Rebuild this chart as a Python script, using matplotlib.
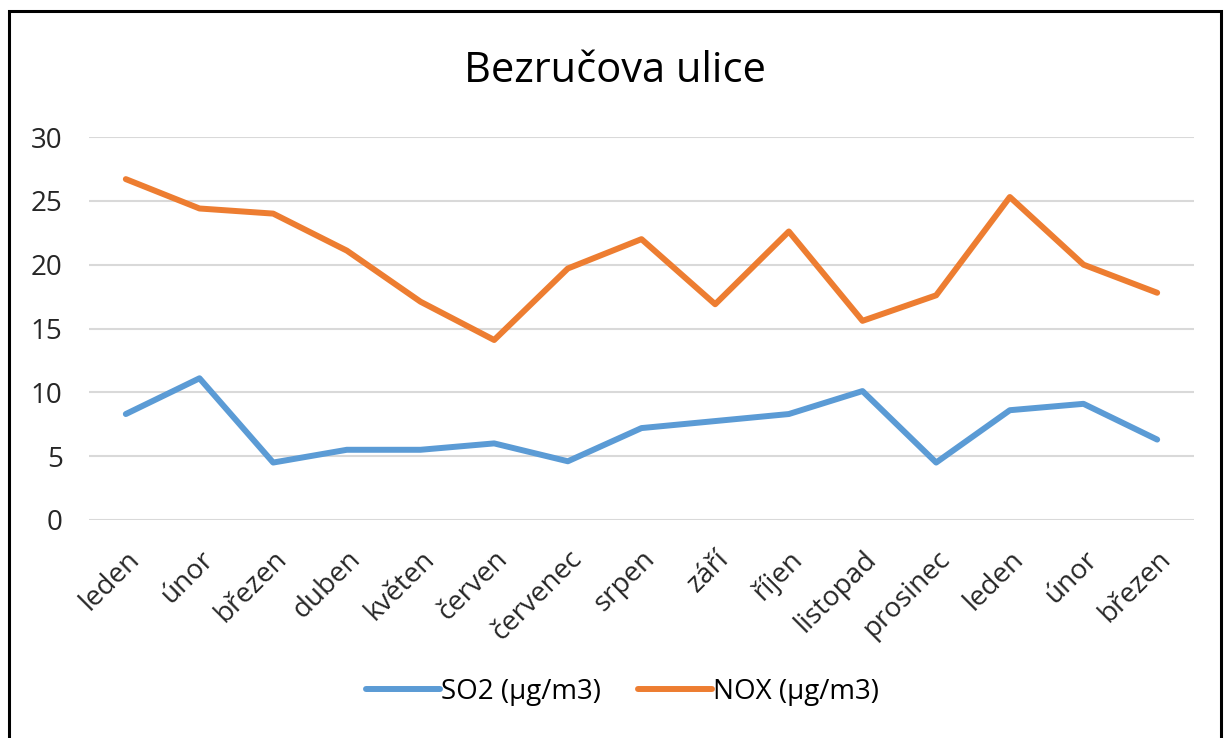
import matplotlib.pyplot as plt
from matplotlib.patches import Rectangle

months = ['leden', 'únor', 'březen', 'duben', 'květen', 'červen', 'červenec',
          'srpen', 'září', 'říjen', 'listopad', 'prosinec', 'leden', 'únor', 'březen']
so2 = [8.3, 11.1, 4.5, 5.5, 5.5, 6.0, 4.6, 7.2, 7.75, 8.3, 10.1, 4.5, 8.6, 9.1, 6.3]
nox = [26.7, 24.4, 24.0, 21.1, 17.1, 14.1, 19.7, 22.0, 16.9, 22.6, 15.6, 17.6, 25.3, 20.0, 17.8]

plt.rcParams['font.family'] = ['Open Sans', 'DejaVu Sans']
fs = 20

fig = plt.figure(figsize=(12.29, 7.38), dpi=100)
ax = fig.add_axes([89 / 1229, 1 - 520 / 738, 1105 / 1229, 383 / 738])

x = list(range(len(months)))
ax.plot(x, so2, color='#5B9BD5', lw=4.3, solid_capstyle='round', label='SO2 (µg/m3)')
ax.plot(x, nox, color='#ED7D31', lw=4.3, solid_capstyle='round', label='NOX (µg/m3)')

ax.set_xlim(-0.5, len(months) - 0.5)
ax.set_ylim(0, 30)
ax.set_yticks(range(0, 31, 5))
ax.set_xticks(x)
ax.set_xticklabels(months, rotation=45, ha='right', rotation_mode='anchor')
ax.tick_params(axis='both', length=0, labelsize=fs, colors='#262626')
ax.tick_params(axis='y', pad=19)
ax.tick_params(axis='x', pad=18)
ax.grid(axis='y', color='#D9D9D9', lw=1.5)
ax.set_axisbelow(True)
for s in ax.spines.values():
    s.set_visible(False)

fig.text(0.5, 1 - 71 / 738, 'Bezručova ulice', ha='center', va='center', fontsize=30, color='#000000')

ax.legend(loc='center', bbox_to_anchor=(0.483, (520 - 692) / 383), ncol=2, frameon=False,
          fontsize=fs, handlelength=2.65, columnspacing=1.35, handletextpad=0.05)

fig.patches.append(Rectangle((8.5 / 1229, -0.05), 1212.5 / 1229, 1.05 - 11 / 738,
                             transform=fig.transFigure, fill=False, ec='black', lw=2.2))

fig.savefig('out.png', dpi=100)
